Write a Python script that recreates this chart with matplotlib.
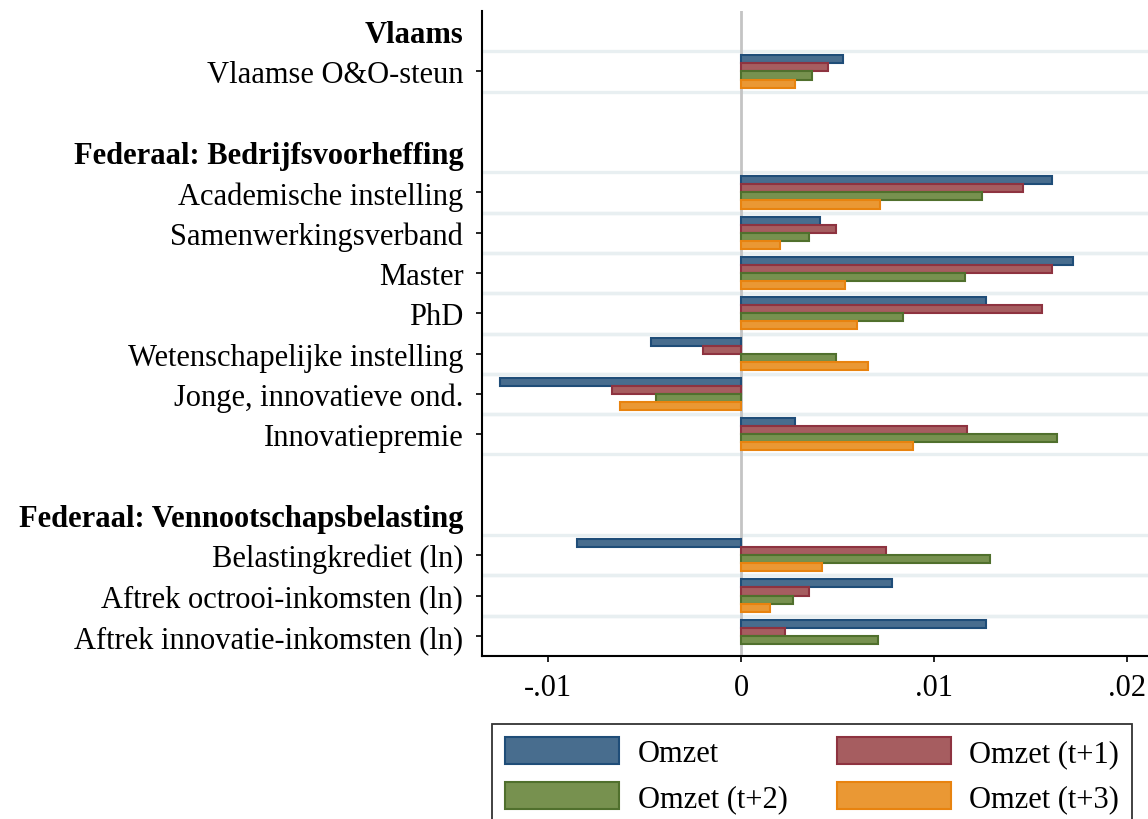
import numpy as np
import matplotlib
matplotlib.use("Agg")
import matplotlib.pyplot as plt
from matplotlib.patches import Patch

plt.rcParams["font.family"] = ["Liberation Serif", "DejaVu Serif"]

# Rows from top to bottom; headings are drawn bold, "" is a blank spacer row
rows = ["Vlaams", "Vlaamse O&O-steun", "",
        "Federaal: Bedrijfsvoorheffing", "Academische instelling", "Samenwerkingsverband",
        "Master", "PhD", "Wetenschapelijke instelling", "Jonge, innovatieve ond.",
        "Innovatiepremie", "",
        "Federaal: Vennootschapsbelasting", "Belastingkrediet (ln)",
        "Aftrek octrooi-inkomsten (ln)", "Aftrek innovatie-inkomsten (ln)"]
headings = ["Vlaams", "Federaal: Bedrijfsvoorheffing", "Federaal: Vennootschapsbelasting"]

measures = ["Vlaamse O&O-steun", "Academische instelling", "Samenwerkingsverband",
            "Master", "PhD", "Wetenschapelijke instelling", "Jonge, innovatieve ond.",
            "Innovatiepremie", "Belastingkrediet (ln)",
            "Aftrek octrooi-inkomsten (ln)", "Aftrek innovatie-inkomsten (ln)"]

omzet    = [0.0053, 0.0161, 0.0041, 0.0172, 0.0127, -0.0047, -0.0125, 0.0028, -0.0085, 0.0078, 0.0127]
omzet_t1 = [0.0045, 0.0146, 0.0049, 0.0161, 0.0156, -0.0020, -0.0067, 0.0117, 0.0075, 0.0035, 0.0023]
omzet_t2 = [0.0037, 0.0125, 0.0035, 0.0116, 0.0084, 0.0049, -0.0044, 0.0164, 0.0129, 0.0027, 0.0071]
omzet_t3 = [0.0028, 0.0072, 0.0020, 0.0054, 0.0060, 0.0066, -0.0063, 0.0089, 0.0042, 0.0015, np.nan]

series = [("Omzet", omzet), ("Omzet (t+1)", omzet_t1),
          ("Omzet (t+2)", omzet_t2), ("Omzet (t+3)", omzet_t3)]
fills = ["#486d8e", "#a65d60", "#77914f", "#ea9834"]
edges = ["#1f4d78", "#8e3340", "#50702d", "#e8830f"]

FS = 22

fig = plt.figure(figsize=(11.48, 8.2), dpi=100)
ax = fig.add_axes([482 / 1148, 1 - 657 / 820, (1148 - 482) / 1148, (657 - 12) / 820])

ypos = {name: i for i, name in enumerate(rows) if name}
meas_y = np.array([ypos[m] for m in measures])

# light separators around every measure row
for y in meas_y:
    ax.axhline(y - 0.5, color="#e8eff1", lw=2.4, zorder=0)
    ax.axhline(y + 0.5, color="#e8eff1", lw=2.4, zorder=0)

ax.axvline(0, color="#c4c4c4", lw=2, zorder=1)

offsets = [-0.3, -0.1, 0.1, 0.3]
for (name, vals), off, fc, ec in zip(series, offsets, fills, edges):
    ax.barh(meas_y + off, vals, height=0.2, color=fc, edgecolor=ec,
            linewidth=1.5, zorder=2, label=name)

ax.set_ylim(len(rows) - 0.5, -0.5)
ax.set_xlim(-0.01344, 0.0211)

label_rows = [i for i, name in enumerate(rows) if name]
ax.set_yticks(label_rows)
ax.set_yticklabels([rows[i] for i in label_rows], fontsize=FS)
for tick, i in zip(ax.yaxis.get_major_ticks(), label_rows):
    if rows[i] in headings:
        tick.label1.set_fontweight("bold")
        tick.tick1line.set_visible(False)
ax.tick_params(axis="y", length=4.5, width=1.2, pad=9)

ax.set_xticks([-0.01, 0, 0.01, 0.02])
ax.set_xticklabels(["-.01", "0", ".01", ".02"], fontsize=FS)
ax.tick_params(axis="x", length=4.5, width=1.2, pad=8)

ax.spines["top"].set_visible(False)
ax.spines["right"].set_visible(False)
for s in ["left", "bottom"]:
    ax.spines[s].set_linewidth(1.5)

handles = [Patch(facecolor=fc, edgecolor=ec, linewidth=1.5) for fc, ec in zip(fills, edges)]
names = [s[0] for s in series]
order = [0, 2, 1, 3]
leg = fig.legend([handles[i] for i in order], [names[i] for i in order],
                 loc="upper left", bbox_to_anchor=(492 / 1148, 1 - 725 / 820),
                 ncol=2, fontsize=FS, frameon=True, fancybox=False,
                 handlelength=3.75, handleheight=1.0, handletextpad=0.6,
                 columnspacing=1.6, labelspacing=0.45, borderpad=0.42,
                 borderaxespad=0)
leg.get_frame().set_edgecolor("black")
leg.get_frame().set_linewidth(1.3)

fig.savefig("out.png", dpi=100)
